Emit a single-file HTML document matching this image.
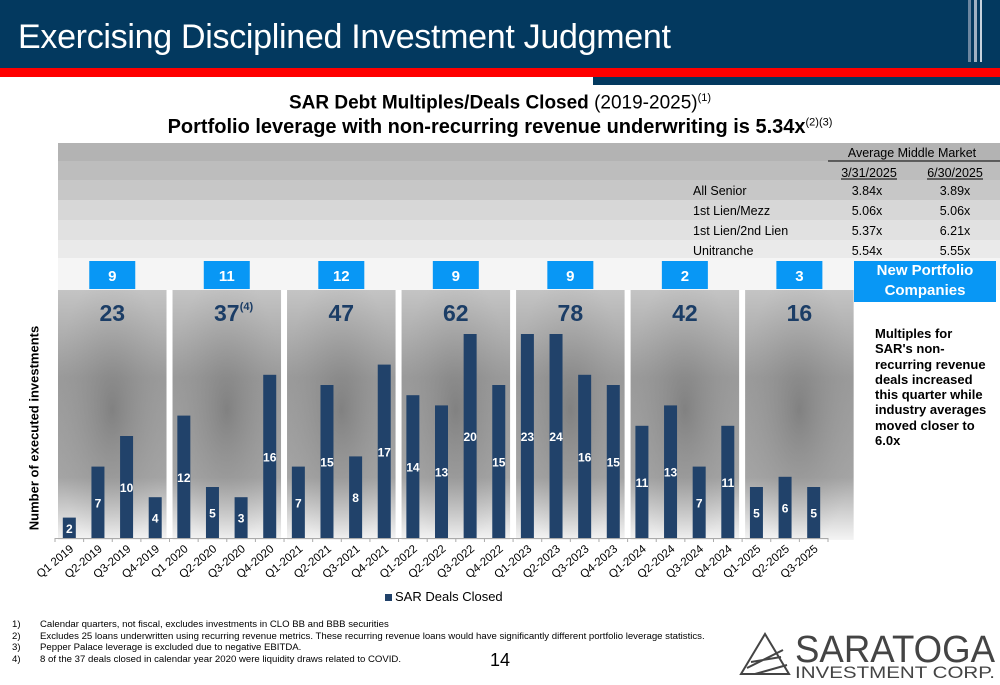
<!DOCTYPE html>
<html><head><meta charset="utf-8"><style>
body{margin:0;width:1000px;height:685px;overflow:hidden;background:#fff;font-family:"Liberation Sans",sans-serif;position:relative}
.abs{position:absolute}
</style></head><body>
<div class="abs" style="left:0;top:0;width:1000px;height:68px;background:#03395f"></div>
<div class="abs" style="left:968px;top:0;width:3px;height:62px;background:#6c86a0"></div>
<div class="abs" style="left:974px;top:0;width:3px;height:62px;background:#9fb1c3"></div>
<div class="abs" style="left:980px;top:0;width:2px;height:62px;background:#c8d3de"></div>
<div class="abs" style="left:18px;top:18px;color:#fff;font-size:34px;letter-spacing:-0.3px">Exercising Disciplined Investment Judgment</div>
<div class="abs" style="left:0;top:68px;width:1000px;height:9px;background:#f00"></div>
<div class="abs" style="left:593px;top:77px;width:407px;height:8px;background:#03395f"></div>
<div class="abs" style="left:0;width:1000px;top:92px;text-align:center;font-size:19px;color:#000"><b>SAR Debt Multiples/Deals Closed</b> (2019-2025)<sup style="font-size:11px">(1)</sup></div>
<div class="abs" style="left:0;width:1000px;top:116px;text-align:center;font-size:20px;font-weight:bold;color:#000">Portfolio leverage with non-recurring revenue underwriting is 5.34x<sup style="font-size:11px;font-weight:normal">(2)(3)</sup></div>

<svg class="abs" style="left:0;top:0" width="1000" height="685">
<defs>
<linearGradient id="lg" x1="0" y1="0" x2="0" y2="1"><stop offset="0" stop-color="#c4c4c4"/><stop offset="0.35" stop-color="#9a9a9a"/><stop offset="0.75" stop-color="#a4a4a4"/><stop offset="1" stop-color="#f4f4f4"/></linearGradient>
<radialGradient id="g" cx="50%" cy="48%" r="55%"><stop offset="0" stop-color="#6e6e6e" stop-opacity="0.6"/><stop offset="1" stop-color="#9a9a9a" stop-opacity="0"/></radialGradient>
</defs>
<g id="table"></g>
<g id="panels"></g>
<g id="bars"></g>
<g id="axis"></g>
</svg>

<div class="abs" style="left:34px;top:428px;transform:translate(-50%,-50%) rotate(-90deg);white-space:nowrap;font-size:13px;font-weight:bold">Number of executed investments</div>
<div class="abs" style="left:854px;top:261px;width:142px;height:41px;background:#0897f5;color:#fff;font-weight:bold;font-size:15px;text-align:center;line-height:20px">New Portfolio<br>Companies</div>
<div class="abs" style="left:875px;top:326px;width:116px;font-size:13px;font-weight:bold;line-height:15.3px">Multiples for SAR's non-recurring revenue deals increased this quarter while industry averages moved closer to 6.0x</div>
<div class="abs" style="left:385px;top:589px;font-size:13px"><span style="display:inline-block;width:7px;height:7px;background:#21426a;margin-right:3px"></span>SAR Deals Closed</div>
<div class="abs" style="left:12px;top:619px;font-size:9.6px;line-height:11.5px">
<div><span style="display:inline-block;width:28px">1)</span>Calendar quarters, not fiscal, excludes investments in CLO BB and BBB securities</div>
<div><span style="display:inline-block;width:28px">2)</span>Excludes 25 loans underwritten using recurring revenue metrics. These recurring revenue loans would have significantly different portfolio leverage statistics.</div>
<div><span style="display:inline-block;width:28px">3)</span>Pepper Palace leverage is excluded due to negative EBITDA.</div>
<div><span style="display:inline-block;width:28px">4)</span>8 of the 37 deals closed in calendar year 2020 were liquidity draws related to COVID.</div>
</div>
<div class="abs" style="left:490px;top:650px;font-size:18px">14</div>
<svg class="abs" style="left:735px;top:628px" width="265" height="52">
<path d="M6 46 L30 6 L54 46 Z" fill="none" stroke="#444" stroke-width="2"/><path d="M12 40 L48 22 M16 34 L46 29 M20 46 L52 37" stroke="#444" stroke-width="2"/>
<text x="60" y="34" font-size="38" fill="#444" textLength="200" lengthAdjust="spacingAndGlyphs">SARATOGA</text>
<text x="60" y="50" font-size="17" fill="#444" textLength="200" lengthAdjust="spacingAndGlyphs">INVESTMENT CORP.</text>
</svg>

<script>
const categories=["Q1 2019","Q2-2019","Q3-2019","Q4-2019","Q1 2020","Q2-2020","Q3-2020","Q4-2020","Q1-2021","Q2-2021","Q3-2021","Q4-2021","Q1-2022","Q2-2022","Q3-2022","Q4-2022","Q1-2023","Q2-2023","Q3-2023","Q4-2023","Q1-2024","Q2-2024","Q3-2024","Q4-2024","Q1-2025","Q2-2025","Q3-2025"];
const barHeights=[2,7,10,4,12,5,4,16,7,15,8,17,14,13,20,15,20,20,16,15,11,13,7,11,5,6,5];
const dealLabels=[2,7,10,4,12,5,3,16,7,15,8,17,14,13,20,15,23,24,16,15,11,13,7,11,5,6,5];
const yearTotals=["23","37","47","62","78","42","16"];
const newPortfolio=[9,11,12,9,9,2,3];
const tableRows=[["All Senior","3.84x","3.89x"],["1st Lien/Mezz","5.06x","5.06x"],["1st Lien/2nd Lien","5.37x","6.21x"],["Unitranche","5.54x","5.55x"]];

const NS="http://www.w3.org/2000/svg";
function mk(tag,attrs,parent,text){const e=document.createElementNS(NS,tag);for(const k in attrs)e.setAttribute(k,attrs[k]);if(text!==undefined)e.textContent=text;parent.appendChild(e);return e;}
const x0=55,step=28.63,base=538,unit=10.2;
const xc=i=>x0+step*(i+0.5);
const y=v=>base-v*unit;

const tg=document.getElementById('table');
const stripes=["#b3b3b3","#bdbdbd","#c7c7c7","#d7d7d7","#e1e1e1","#eaeaea","#f5f5f5"];
const sy=[143,161,180,200,220,240,258,290];
stripes.forEach((c,i)=>{const r=mk('rect',{x:58,y:sy[i],width:942,height:sy[i+1]-sy[i],fill:c},tg);});
let t=mk('text',{x:912,y:157,'font-size':12.5,'text-anchor':'middle'},tg,'Average Middle Market');

mk('line',{x1:828,x2:1000,y1:161,y2:161,stroke:'#000','stroke-width':1},tg);
[["3/31/2025",869],["6/30/2025",955]].forEach(([s,x])=>{const e=mk('text',{x:x,y:177,'font-size':12.5,'text-anchor':'middle'},tg,s);mk('line',{x1:x-28,x2:x+28,y1:179,y2:179,stroke:'#000'},tg);});
tableRows.forEach((r,i)=>{const yy=195+i*20;
 const a=mk('text',{x:693,y:yy,'font-size':12.5},tg,r[0]);
 const b=mk('text',{x:867,y:yy,'font-size':12.5,'text-anchor':'middle'},tg,r[1]);
 const c=mk('text',{x:955,y:yy,'font-size':12.5,'text-anchor':'middle'},tg,r[2]);});

const pg=document.getElementById('panels');
yearTotals.forEach((tot,g)=>{const gx=x0+step*4*g;const w=step*4;
 const p=mk('rect',{x:gx+3,y:290,width:w-6,height:250,fill:'url(#lg)'},pg);
 mk('rect',{x:gx+3,y:290,width:w-6,height:250,fill:'url(#g)'},pg);
 const cx=gx+w/2;
 const b=mk('rect',{x:cx-23,y:261,width:46,height:28,fill:'#0897f5'},pg);
 const bt=mk('text',{x:cx,y:281,'font-size':15,'font-weight':'bold',fill:'#fff','text-anchor':'middle'},pg,newPortfolio[g]);
 const tt=mk('text',{x:cx,y:321,'font-size':23,'font-weight':'bold',fill:'#1b3d66','text-anchor':'middle'},pg,tot);
 if(g===1){const s=mk('text',{x:cx+13,y:310,'font-size':11,'font-weight':'bold',fill:'#1b3d66'},pg,'(4)');}
});

const bg=document.getElementById('bars');
categories.forEach((c,i)=>{const v=barHeights[i];
 const r=mk('rect',{x:xc(i)-6.5,y:y(v),width:13,height:base-y(v),fill:'#21426a'},bg);
 const l=mk('text',{x:xc(i),y:y(v/2)+5,'font-size':12,'font-weight':'bold',fill:'#fff','text-anchor':'middle'},bg,dealLabels[i]);
});

const ag=document.getElementById('axis');
const ax=mk('line',{x1:x0,x2:x0+step*27,y1:base+0.5,y2:base+0.5,stroke:'#aaa'},ag);
for(let i=0;i<=27;i++)mk('line',{x1:x0+step*i,x2:x0+step*i,y1:base,y2:base+4,stroke:'#aaa'},ag);
categories.forEach((c,i)=>{const e=mk('text',{x:xc(i)+5,y:base+12,'font-size':11.5,'text-anchor':'end',transform:`rotate(-40 ${xc(i)+5} ${base+12})`},ag,c);});
</script>
</body></html>
